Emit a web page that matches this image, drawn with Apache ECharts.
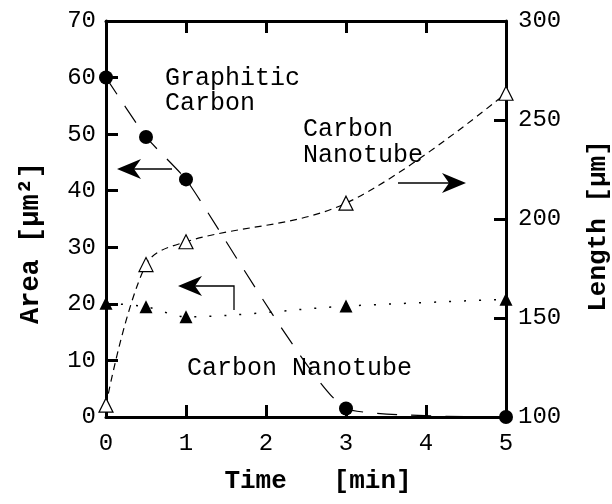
<!DOCTYPE html>
<html><head><meta charset="utf-8">
<script src="https://cdn.jsdelivr.net/npm/echarts@6/dist/echarts.min.js"></script>
<style>html,body{margin:0;padding:0;background:#fff}#c{width:612px;height:504px}</style>
</head><body><div id="c"></div>
<script>
// ---- data ----
const timeMin = [0, 0.5, 1, 3, 5];
const graphiticArea = [60, 49.5, 42.0, 1.5, 0];        // left axis, filled circles
const nanotubeArea = [20.1, 19.5, 17.7, 19.6, 20.8];   // left axis, filled triangles
const nanotubeLength = [106, 177, 188.5, 208, 263.5];  // right axis, open triangles
const xRange = [0, 5];
const areaRange = [0, 70];
const lengthRange = [100, 300];

const FONT = '"Liberation Mono", "DejaVu Sans Mono", monospace';
const pairs = ys => timeMin.map((t, i) => [t, ys[i]]);

const axisLineStyle = { show: true, onZero: false, lineStyle: { color: '#000', width: 3 } };
const tickStyle = { show: true, inside: true, length: 12, lineStyle: { color: '#000', width: 3 } };
const labelStyle = m => ({ show: true, margin: m, color: '#000', fontFamily: FONT, fontSize: 24 });

function arrowHead(tx, ty, dir) { // dir: -1 left-pointing, 1 right-pointing
  const b = 24 * -dir, n = 17 * -dir;
  return { type: 'polygon', shape: { points: [[tx, ty], [tx + b, ty - 10], [tx + n, ty], [tx + b, ty + 10]] },
           style: { fill: '#000' }, z: 10 };
}
function seg(pts) {
  return { type: 'polyline', shape: { points: pts }, style: { stroke: '#000', lineWidth: 1.3, fill: null }, z: 10 };
}
function txt(x, y, s, opts) {
  return Object.assign({ type: 'text', x: x, y: y, z: 10,
    style: Object.assign({ text: s, fill: '#000', font: '25px ' + FONT, textAlign: 'left', textVerticalAlign: 'middle' }, opts || {}) });
}

const chart = echarts.init(document.getElementById('c'), null, { renderer: 'canvas' });
chart.setOption({
  animation: false,
  backgroundColor: '#fff',
  grid: { left: 106, right: 106, top: 21, bottom: 87 },
  xAxis: [
    { type: 'value', min: xRange[0], max: xRange[1], interval: 1, position: 'bottom',
      axisLine: axisLineStyle, axisTick: tickStyle, axisLabel: labelStyle(15), splitLine: { show: false } },
    { type: 'value', min: xRange[0], max: xRange[1], interval: 1, position: 'top',
      axisLine: axisLineStyle, axisTick: tickStyle, axisLabel: { show: false }, splitLine: { show: false } }
  ],
  yAxis: [
    { type: 'value', min: areaRange[0], max: areaRange[1], interval: 10, position: 'left',
      axisLine: axisLineStyle, axisTick: tickStyle, axisLabel: labelStyle(10), splitLine: { show: false } },
    { type: 'value', min: lengthRange[0], max: lengthRange[1], interval: 50, position: 'right',
      axisLine: axisLineStyle, axisTick: tickStyle, axisLabel: labelStyle(12), splitLine: { show: false } }
  ],
  series: [
    { name: 'Graphitic Carbon', type: 'line', xAxisIndex: 0, yAxisIndex: 0, data: pairs(graphiticArea),
      smooth: 0.15, clip: false, symbol: 'circle', symbolSize: 14,
      itemStyle: { color: '#000' }, lineStyle: { color: '#000', width: 1.2, type: [20, 14] }, z: 5 },
    { name: 'Carbon Nanotube area', type: 'line', xAxisIndex: 0, yAxisIndex: 0, data: pairs(nanotubeArea),
      smooth: 0.3, clip: false, symbol: 'triangle', symbolSize: 13,
      itemStyle: { color: '#000' }, lineStyle: { color: '#000', width: 1.5, type: [2, 13] }, z: 5 },
    { name: 'Carbon Nanotube length', type: 'line', xAxisIndex: 0, yAxisIndex: 1, data: pairs(nanotubeLength),
      smooth: 0.35, clip: false, symbol: 'triangle', symbolSize: 14,
      itemStyle: { color: '#fff', borderColor: '#000', borderWidth: 1.2 },
      lineStyle: { color: '#000', width: 1.2, type: [7, 5] }, z: 5 }
  ],
  graphic: [
    txt(165, 78, 'Graphitic'),
    txt(165, 103, 'Carbon'),
    txt(303, 129, 'Carbon'),
    txt(303, 155, 'Nanotube'),
    txt(187, 368, 'Carbon Nanotube'),
    // arrows
    seg([[172, 169], [128, 169]]), arrowHead(117, 169, -1),
    seg([[398, 183], [456, 183]]), arrowHead(466, 183, 1),
    seg([[234, 310], [234, 286], [190, 286]]), arrowHead(178, 286, -1),
    // axis titles
    { type: 'text', x: 31, y: 243, rotation: Math.PI / 2, z: 10,
      style: { text: 'Area [μm²]', fill: '#000', font: 'bold 27px ' + FONT, textAlign: 'center', textVerticalAlign: 'middle' } },
    { type: 'text', x: 598, y: 226, rotation: Math.PI / 2, z: 10,
      style: { text: 'Length [μm]', fill: '#000', font: 'bold 26px ' + FONT, textAlign: 'center', textVerticalAlign: 'middle' } },
    { type: 'text', x: 318, y: 481, z: 10,
      style: { text: 'Time   [min]', fill: '#000', font: 'bold 26px ' + FONT, textAlign: 'center', textVerticalAlign: 'middle' } }
  ]
});
</script></body></html>
